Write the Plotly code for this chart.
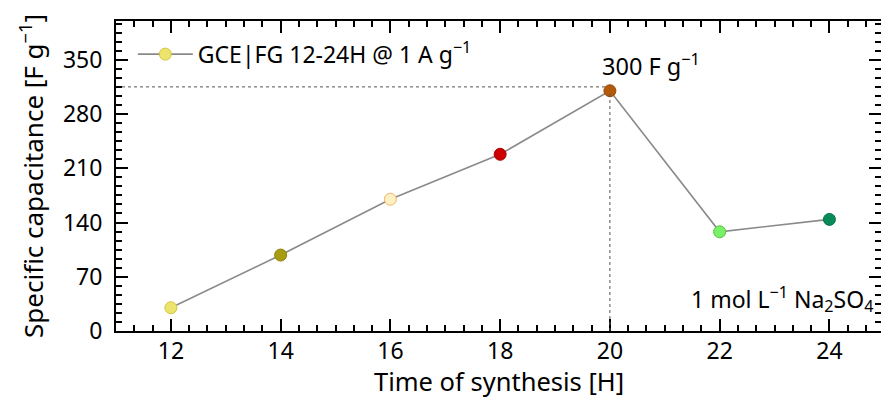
import plotly.graph_objects as go

# ---- data ----
synthesis_time = [12, 14, 16, 18, 20, 22, 24]
capacitance = [30, 98, 170, 228, 310, 128, 144]
marker_fill = ["#ece46c", "#a89c10", "#fdf1c4", "#cc0000", "#b45a0c", "#78f068", "#0a8a58"]
marker_edge = ["#d2c640", "#8e8208", "#f2b464", "#b00000", "#9a4a08", "#5cc040", "#08744a"]
series_name = "GCE|FG 12-24H @ 1 A g<sup>−1</sup>"
peak_time = 20
peak_guide = 315
peak_label = "300 F g<sup>−1</sup>"
electrolyte_label = "1 mol L<sup>−1</sup> Na<sub>2</sub>SO<sub>4</sub>"
x_title = "Time of synthesis [H]"
y_title = "Specific capacitance [F g<sup>−1</sup>]"
y_ticks = [0, 70, 140, 210, 280, 350]
x_ticks = [12, 14, 16, 18, 20, 22, 24]

FONT = "Noto Sans"

fig = go.Figure()
fig.add_trace(go.Scatter(
    x=synthesis_time, y=capacitance, mode="lines+markers", name=series_name,
    line=dict(color="#8a8a8a", width=1.6),
    marker=dict(size=12, color=marker_fill, line=dict(color=marker_edge, width=1)),
    showlegend=True,
))
# dummy trace for right-side ticks
fig.add_trace(go.Scatter(x=[None], y=[None], yaxis="y2", showlegend=False, hoverinfo="skip"))

# dotted guide lines to the peak
fig.add_shape(type="line", xref="x", yref="y", x0=11, x1=peak_time, y0=peak_guide, y1=peak_guide,
              line=dict(color="#555555", width=1, dash="dot"), layer="below")
fig.add_shape(type="line", xref="x", yref="y", x0=peak_time, x1=peak_time, y0=0, y1=capacitance[4],
              line=dict(color="#555555", width=1, dash="dot"), layer="above")

fig.add_annotation(x=peak_time, y=capacitance[4], xref="x", yref="y", text=peak_label,
                   showarrow=False, xanchor="left", yanchor="bottom", xshift=-10, yshift=7,
                   font=dict(family=FONT, size=23.5, color="black"))
fig.add_annotation(x=1, y=0, xref="paper", yref="paper", text=electrolyte_label,
                   showarrow=False, xanchor="right", yanchor="bottom", xshift=-6, yshift=12,
                   font=dict(family=FONT, size=23, color="black"))
# x-axis title
fig.add_annotation(x=0.5, y=0, xref="paper", yref="paper", text=x_title,
                   showarrow=False, xanchor="center", yanchor="bottom", yshift=-68,
                   font=dict(family=FONT, size=25.5, color="black"), borderpad=0)

axis_common = dict(ticks="inside", ticklen=12, tickwidth=2, tickcolor="black",
                   showgrid=False, zeroline=False)

fig.update_layout(
    width=881, height=399,
    margin=dict(l=116, r=0, t=21, b=68),
    paper_bgcolor="white", plot_bgcolor="white",
    font=dict(family=FONT, size=23, color="black"),
    xaxis=dict(range=[11, 24.94], tickvals=x_ticks, showline=True, linecolor="black", linewidth=2,
               mirror="ticks", ticklabelstandoff=-2,
               minor=dict(ticks="inside", ticklen=6, tickwidth=2, tickcolor="black", dtick=1/3, tick0=11),
               tickfont=dict(size=23), **axis_common),
    yaxis=dict(range=[0, 400], tickvals=y_ticks, showline=True, linecolor="black", linewidth=2,
               mirror=False, ticklabelstandoff=7,
               minor=dict(ticks="inside", ticklen=6, tickwidth=2, tickcolor="black", dtick=70/6, tick0=0),
               title=dict(text=y_title, font=dict(size=26), standoff=12),
               tickfont=dict(size=23), **axis_common),
    yaxis2=dict(range=[0, 400], overlaying="y", side="right", tickvals=y_ticks, showticklabels=False,
                showline=False,
                minor=dict(ticks="inside", ticklen=6, tickwidth=2, tickcolor="black", dtick=70/6, tick0=0),
                **axis_common),
    legend=dict(x=0.022, y=0.893, xanchor="left", yanchor="middle", bgcolor="rgba(0,0,0,0)",
                font=dict(family=FONT, size=23), itemwidth=55, borderwidth=0),
    showlegend=True,
)

fig.write_html("out.html")
